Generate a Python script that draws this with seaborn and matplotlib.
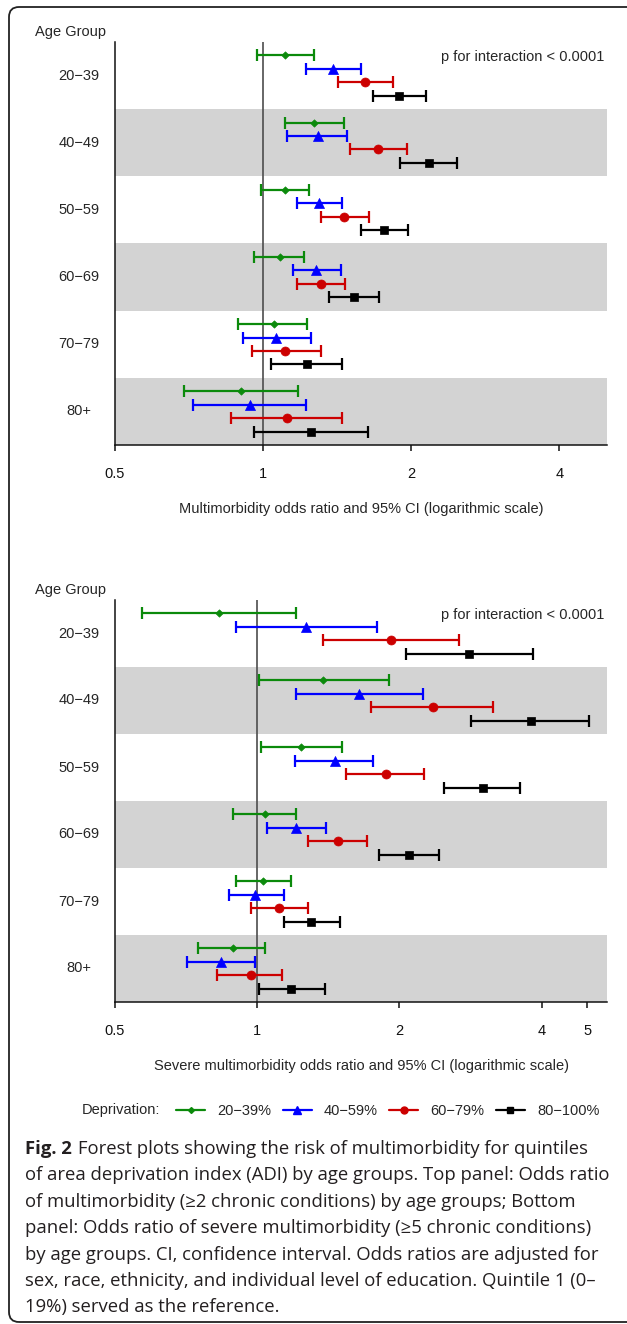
import numpy as np
import pandas as pd
import seaborn as sns
import matplotlib.pyplot as plt
from matplotlib.lines import Line2D
from matplotlib.patches import FancyBboxPatch
from matplotlib.ticker import NullLocator, FixedLocator, FixedFormatter

age_groups = ["20−39", "40−49", "50−59", "60−69", "70−79", "80+"]
deprivation = ["20−39%", "40−59%", "60−79%", "80−100%"]

# Multimorbidity: rows = age group, cols = deprivation quintile
top_or = [[1.11, 1.39, 1.61, 1.89],
          [1.27, 1.29, 1.71, 2.17],
          [1.11, 1.30, 1.46, 1.76],
          [1.08, 1.28, 1.31, 1.53],
          [1.05, 1.06, 1.11, 1.23],
          [0.90, 0.94, 1.12, 1.25]]
top_lo = [[0.97, 1.22, 1.42, 1.67],
          [1.11, 1.12, 1.50, 1.90],
          [0.99, 1.17, 1.31, 1.58],
          [0.96, 1.15, 1.17, 1.36],
          [0.89, 0.91, 0.95, 1.04],
          [0.69, 0.72, 0.86, 0.96]]
top_hi = [[1.27, 1.58, 1.84, 2.14],
          [1.46, 1.48, 1.96, 2.48],
          [1.24, 1.45, 1.64, 1.97],
          [1.21, 1.44, 1.47, 1.72],
          [1.23, 1.25, 1.31, 1.45],
          [1.18, 1.22, 1.45, 1.63]]

# Severe multimorbidity
bot_or = [[0.83, 1.27, 1.92, 2.81],
          [1.38, 1.64, 2.35, 3.79],
          [1.24, 1.46, 1.87, 3.00],
          [1.04, 1.21, 1.48, 2.10],
          [1.03, 0.99, 1.11, 1.30],
          [0.89, 0.84, 0.97, 1.18]]
bot_lo = [[0.57, 0.90, 1.38, 2.06],
          [1.01, 1.21, 1.74, 2.84],
          [1.02, 1.20, 1.54, 2.49],
          [0.89, 1.05, 1.28, 1.81],
          [0.90, 0.87, 0.97, 1.14],
          [0.75, 0.71, 0.82, 1.01]]
bot_hi = [[1.21, 1.79, 2.67, 3.83],
          [1.90, 2.24, 3.16, 5.03],
          [1.51, 1.76, 2.25, 3.60],
          [1.21, 1.40, 1.71, 2.43],
          [1.18, 1.14, 1.28, 1.50],
          [1.04, 0.99, 1.13, 1.39]]

colors = ["#0B8A0B", "#0000FF", "#CC0000", "#000000"]
markers = ["D", "^", "o", "s"]
msizes = [14, 52, 42, 36]


def to_frame(or_, lo, hi):
    rows = []
    for i, g in enumerate(age_groups):
        for k, d in enumerate(deprivation):
            rows.append({"age": g, "dep": d, "pos": i + 0.2 * (k + 1),
                         "or": or_[i][k], "lo": lo[i][k], "hi": hi[i][k]})
    return pd.DataFrame(rows)


sns.set_theme(style="ticks")
plt.rcParams["font.family"] = ["Liberation Sans", "DejaVu Sans"]
plt.rcParams["font.size"] = 10.5

fig = plt.figure(figsize=(6.27, 13.24), dpi=100)
W, H = 627, 1324


def draw_panel(rect, df, xmax, ticks, xlabel):
    ax = fig.add_axes(rect)
    ax.set_xscale("log", base=2)
    for i in range(len(age_groups)):
        if i % 2 == 1:
            ax.axhspan(i, i + 1, color="#D3D3D3", lw=0, zorder=0)
    ax.axvline(1, color="#4d4d4d", lw=1.2, zorder=1)
    for k, d in enumerate(deprivation):
        sub = df[df["dep"] == d]
        ax.errorbar(sub["or"], sub["pos"],
                    xerr=[sub["or"] - sub["lo"], sub["hi"] - sub["or"]],
                    fmt="none", ecolor=colors[k], elinewidth=1.6,
                    capsize=4, capthick=1.6, zorder=2)
        sns.scatterplot(data=sub, x="or", y="pos", marker=markers[k],
                        color=colors[k], s=msizes[k], edgecolor=colors[k],
                        linewidth=0.5, ax=ax, zorder=3, legend=False)
    ax.set_xlim(0.5, xmax)
    ax.set_ylim(len(age_groups), 0)
    ax.xaxis.set_major_locator(FixedLocator(ticks))
    ax.xaxis.set_major_formatter(FixedFormatter([f"{t:g}" for t in ticks]))
    ax.xaxis.set_minor_locator(NullLocator())
    ax.set_yticks([])
    ax.set_ylabel("")
    ax.set_xlabel(xlabel, fontsize=10.5, labelpad=15)
    ax.tick_params(axis="x", direction="out", length=4, width=1.1,
                   pad=12, labelsize=10.5, colors="#111111")
    for s in ["top", "right"]:
        ax.spines[s].set_visible(False)
    for s in ["left", "bottom"]:
        ax.spines[s].set_linewidth(1.1)
        ax.spines[s].set_color("#111111")
    for i, g in enumerate(age_groups):
        ax.text(-0.073, i + 0.5, g, transform=ax.get_yaxis_transform(),
                ha="center", va="center", fontsize=10.5)
    ax.text(-0.163, 1.025, "Age Group", transform=ax.transAxes,
            ha="left", va="center", fontsize=10.5)
    ax.text(0.995, 0.22, "p for interaction < 0.0001",
            transform=ax.get_yaxis_transform(), ha="right", va="center",
            fontsize=10.5)
    return ax


top_df = to_frame(top_or, top_lo, top_hi)
bot_df = to_frame(bot_or, bot_lo, bot_hi)

draw_panel([115 / W, 1 - 445 / H, 492 / W, 403 / H], top_df, 5.0,
           [0.5, 1, 2, 4],
           "Multimorbidity odds ratio and 95% CI (logarithmic scale)")
draw_panel([115 / W, 1 - 1002 / H, 492 / W, 402 / H], bot_df, 5.5,
           [0.5, 1, 2, 4, 5],
           "Severe multimorbidity odds ratio and 95% CI (logarithmic scale)")

# legend
handles = [Line2D([0], [0], color=c, marker=m, lw=1.6,
                  markersize=ms, markeredgecolor=c)
           for c, m, ms in zip(colors, markers, [3, 6, 5, 5])]
fig.text(82 / W, 1 - 1110 / H, "Deprivation:", ha="left", va="center",
         fontsize=10.5)
fig.legend(handles, deprivation, loc="center left",
           bbox_to_anchor=(176 / W, 1 - 1111 / H), ncol=4, frameon=False,
           fontsize=10.5, handlelength=2.0, handletextpad=0.85,
           columnspacing=0.75, borderpad=0, borderaxespad=0)

# caption
cap_font = ["Open Sans", "DejaVu Sans"]
cap_size = 13.3
cap_color = "#231f20"
lines = [
    "Forest plots showing the risk of multimorbidity for quintiles",
    "of area deprivation index (ADI) by age groups. Top panel: Odds ratio",
    "of multimorbidity (≥2 chronic conditions) by age groups; Bottom",
    "panel: Odds ratio of severe multimorbidity (≥5 chronic conditions)",
    "by age groups. CI, confidence interval. Odds ratios are adjusted for",
    "sex, race, ethnicity, and individual level of education. Quintile 1 (0–",
    "19%) served as the reference.",
]
base0 = 1154
step = 26.4
fig_lbl = fig.text(25 / W, 1 - base0 / H, "Fig. 2", ha="left",
                   va="baseline", fontsize=cap_size, fontweight="bold",
                   family=cap_font, color=cap_color)
fig.canvas.draw()
ext = fig_lbl.get_window_extent()
for j, line in enumerate(lines):
    x0 = (ext.x1 + 6) / W if j == 0 else 25 / W
    fig.text(x0, 1 - (base0 + j * step) / H, line, ha="left",
             va="baseline", fontsize=cap_size, family=cap_font,
             color=cap_color)

# rounded frame
frame = FancyBboxPatch((9, 2), 640, 1315, boxstyle="round,pad=0,rounding_size=10",
                       transform=None, fill=False, lw=1.3, ec="#222222")
fig.patches.append(frame)

fig.savefig("out.png", dpi=100, facecolor="white")
